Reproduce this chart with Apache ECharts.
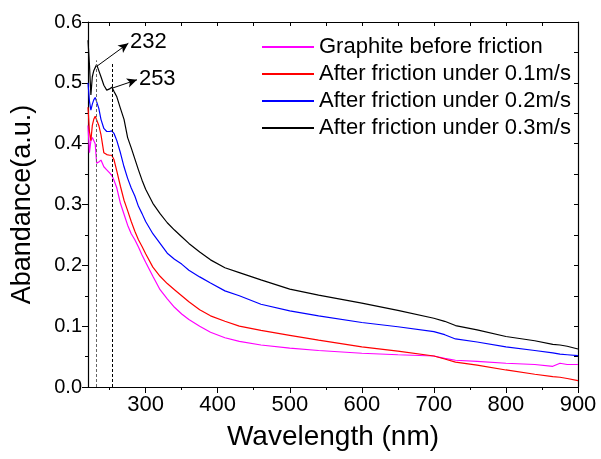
<!DOCTYPE html>
<html>
<head>
<meta charset="utf-8">
<script src="https://cdn.jsdelivr.net/npm/echarts@6/dist/echarts.min.js"></script>
<style>
  html, body { margin: 0; padding: 0; background: #fff; }
  #chart { width: 601px; height: 459px; }
</style>
</head>
<body>
<div id="chart"></div>
<script>
(function () {
  'use strict';

  // wavelength (nm) sample points shared by all four spectra
  const wavelengths = [220, 222, 224, 226, 228, 230, 232, 235, 238, 242, 246, 250, 253, 256, 260, 265, 270, 275, 280, 285, 290, 295, 300,
    310, 320, 330, 340, 350, 360, 375, 390, 410, 430, 460, 500, 540, 600, 650, 700, 715, 730, 760, 800, 840, 865, 875, 885, 900];

  const graphite = [0.430, 0.385, 0.405, 0.410, 0.412, 0.400, 0.368, 0.370, 0.373, 0.362, 0.357, 0.352, 0.348, 0.340, 0.327, 0.302, 0.284, 0.266, 0.252, 0.242, 0.230, 0.217, 0.205,
    0.182, 0.160, 0.145, 0.131, 0.120, 0.111, 0.100, 0.090, 0.081, 0.075, 0.069, 0.064, 0.060, 0.0555, 0.053, 0.051, 0.047, 0.044, 0.042, 0.039, 0.037, 0.034, 0.039, 0.037, 0.037];

  const speed01 = [0.460, 0.420, 0.405, 0.430, 0.440, 0.445, 0.443, 0.430, 0.415, 0.385, 0.382, 0.381, 0.381, 0.374, 0.355, 0.330, 0.307, 0.290, 0.272, 0.256, 0.242, 0.231, 0.219,
    0.197, 0.182, 0.170, 0.160, 0.150, 0.140, 0.127, 0.117, 0.108, 0.100, 0.093, 0.085, 0.077, 0.066, 0.059, 0.051, 0.046, 0.041, 0.036, 0.028, 0.021, 0.017, 0.016, 0.014, 0.0104];

  const speed02 = [0.500, 0.470, 0.455, 0.465, 0.472, 0.476, 0.475, 0.458, 0.440, 0.425, 0.420, 0.420, 0.421, 0.417, 0.405, 0.385, 0.362, 0.343, 0.327, 0.314, 0.297, 0.285, 0.272,
    0.252, 0.236, 0.220, 0.210, 0.202, 0.192, 0.181, 0.171, 0.158, 0.150, 0.136, 0.125, 0.117, 0.106, 0.099, 0.091, 0.086, 0.079, 0.074, 0.066, 0.060, 0.056, 0.054, 0.053, 0.0515];

  const speed03 = [0.570, 0.530, 0.480, 0.510, 0.520, 0.525, 0.530, 0.520, 0.510, 0.496, 0.488, 0.490, 0.493, 0.486, 0.477, 0.458, 0.440, 0.410, 0.393, 0.375, 0.357, 0.340, 0.325,
    0.302, 0.285, 0.270, 0.258, 0.247, 0.236, 0.222, 0.209, 0.196, 0.188, 0.176, 0.161, 0.151, 0.138, 0.126, 0.113, 0.108, 0.101, 0.094, 0.083, 0.076, 0.070, 0.069, 0.067, 0.0625];

  const seriesNames = ['Graphite before friction', 'After friction under 0.1m/s', 'After friction under 0.2m/s', 'After friction under 0.3m/s'];
  const seriesColors = ['#ff00ff', '#ff0000', '#0000ff', '#000000'];

  const xMajorTicks = [300, 400, 500, 600, 700, 800, 900];
  const xMinorTicks = [250, 350, 450, 550, 650, 750, 850];
  const xTopTicks = [250, 300, 350, 400, 450, 500, 550, 600, 650, 700, 750, 800, 850, 900];

  // peak markers: wavelength, dashed line top, arrow start y, arrow end [x, y]
  const peaks = [
    { nm: 232, top: 0.537, from: 0.527, to: [276, 0.565], color: '#666' },
    { nm: 253, top: 0.532, from: 0.491, to: [288, 0.505], color: '#000' },
  ];

  const font = '"Liberation Sans", Arial, sans-serif';

  function pairs(ys) {
    return wavelengths.map(function (x, i) { return [x, ys[i]]; });
  }

  const markData = [];
  peaks.forEach(function (p) {
    markData.push([
      { coord: [p.nm, 0], symbol: 'none', lineStyle: { type: [3, 2], color: p.color, width: 1 }, label: { show: false } },
      { coord: [p.nm, p.top], symbol: 'none' },
    ]);
    markData.push([
      { coord: [p.nm, p.from], symbol: 'none', lineStyle: { type: 'solid', color: '#000', width: 1 },
        label: { show: true, position: 'end', formatter: String(p.nm), fontSize: 22, color: '#000', fontFamily: font, distance: 2 } },
      { coord: p.to, symbol: 'arrow' },
    ]);
  });

  const allSeries = [graphite, speed01, speed02, speed03].map(function (ys, i) {
    const s = {
      name: seriesNames[i],
      type: 'line',
      data: pairs(ys),
      showSymbol: false,
      symbol: 'none',
      lineStyle: { color: seriesColors[i], width: 1.2 },
      itemStyle: { color: seriesColors[i] },
      animation: false,
      z: 3,
    };
    if (i === 3) {
      s.markLine = {
        silent: true,
        animation: false,
        symbol: ['none', 'arrow'],
        symbolSize: [7, 10],
        data: markData,
      };
    }
    return s;
  });

  const chart = echarts.init(document.getElementById('chart'), null, { renderer: 'canvas' });
  chart.setOption({
    animation: false,
    backgroundColor: '#fff',
    textStyle: { fontFamily: font },
    grid: { left: 88, right: 23, top: 22, bottom: 72 },
    legend: {
      orient: 'vertical',
      left: 257,
      top: 31,
      itemWidth: 52,
      itemHeight: 2,
      itemGap: 5,
      icon: 'rect',
      data: seriesNames,
      textStyle: { fontSize: 22, color: '#000', fontFamily: font, lineHeight: 22 },
    },
    xAxis: [
      {
        type: 'value', min: 220, max: 900, position: 'bottom',
        name: 'Wavelength (nm)', nameLocation: 'middle', nameGap: 36,
        nameTextStyle: { fontSize: 28, color: '#000', fontFamily: font },
        axisLine: { lineStyle: { color: '#000', width: 1.2 } },
        axisTick: { show: true, length: 6, customValues: xMajorTicks, lineStyle: { color: '#000' } },
        axisLabel: { customValues: xMajorTicks, fontSize: 22, color: '#000', margin: 7, fontFamily: font },
        splitLine: { show: false },
      },
      {
        type: 'value', min: 220, max: 900, position: 'bottom',
        axisLine: { show: false },
        axisTick: { show: true, length: 3, customValues: xMinorTicks, lineStyle: { color: '#000' } },
        axisLabel: { show: false },
        splitLine: { show: false },
      },
      {
        type: 'value', min: 220, max: 900, position: 'top',
        axisLine: { lineStyle: { color: '#000', width: 1.2 } },
        axisTick: { show: true, inside: true, length: 4, customValues: xTopTicks, lineStyle: { color: '#000' } },
        axisLabel: { show: false },
        splitLine: { show: false },
      },
    ],
    yAxis: [
      {
        type: 'value', min: 0, max: 0.6, interval: 0.1, position: 'left',
        name: 'Abandance(a.u.)', nameLocation: 'middle', nameGap: 52,
        nameTextStyle: { fontSize: 27, color: '#000', fontFamily: font },
        axisLine: { show: true, lineStyle: { color: '#000', width: 1.2 } },
        axisTick: { show: true, length: 6, lineStyle: { color: '#000' } },
        minorTick: { show: true, splitNumber: 2, length: 3, lineStyle: { color: '#000' } },
        axisLabel: { fontSize: 20, color: '#000', margin: 6, fontFamily: font,
          formatter: function (v) { return v.toFixed(1); } },
        splitLine: { show: false },
      },
      {
        type: 'value', min: 0, max: 0.6, interval: 0.05, position: 'right',
        axisLine: { show: true, lineStyle: { color: '#000', width: 1.2 } },
        axisTick: { show: true, inside: true, length: 4, lineStyle: { color: '#000' } },
        axisLabel: { show: false },
        splitLine: { show: false },
      },
    ],
    series: allSeries,
  });
})();
</script>
</body>
</html>
